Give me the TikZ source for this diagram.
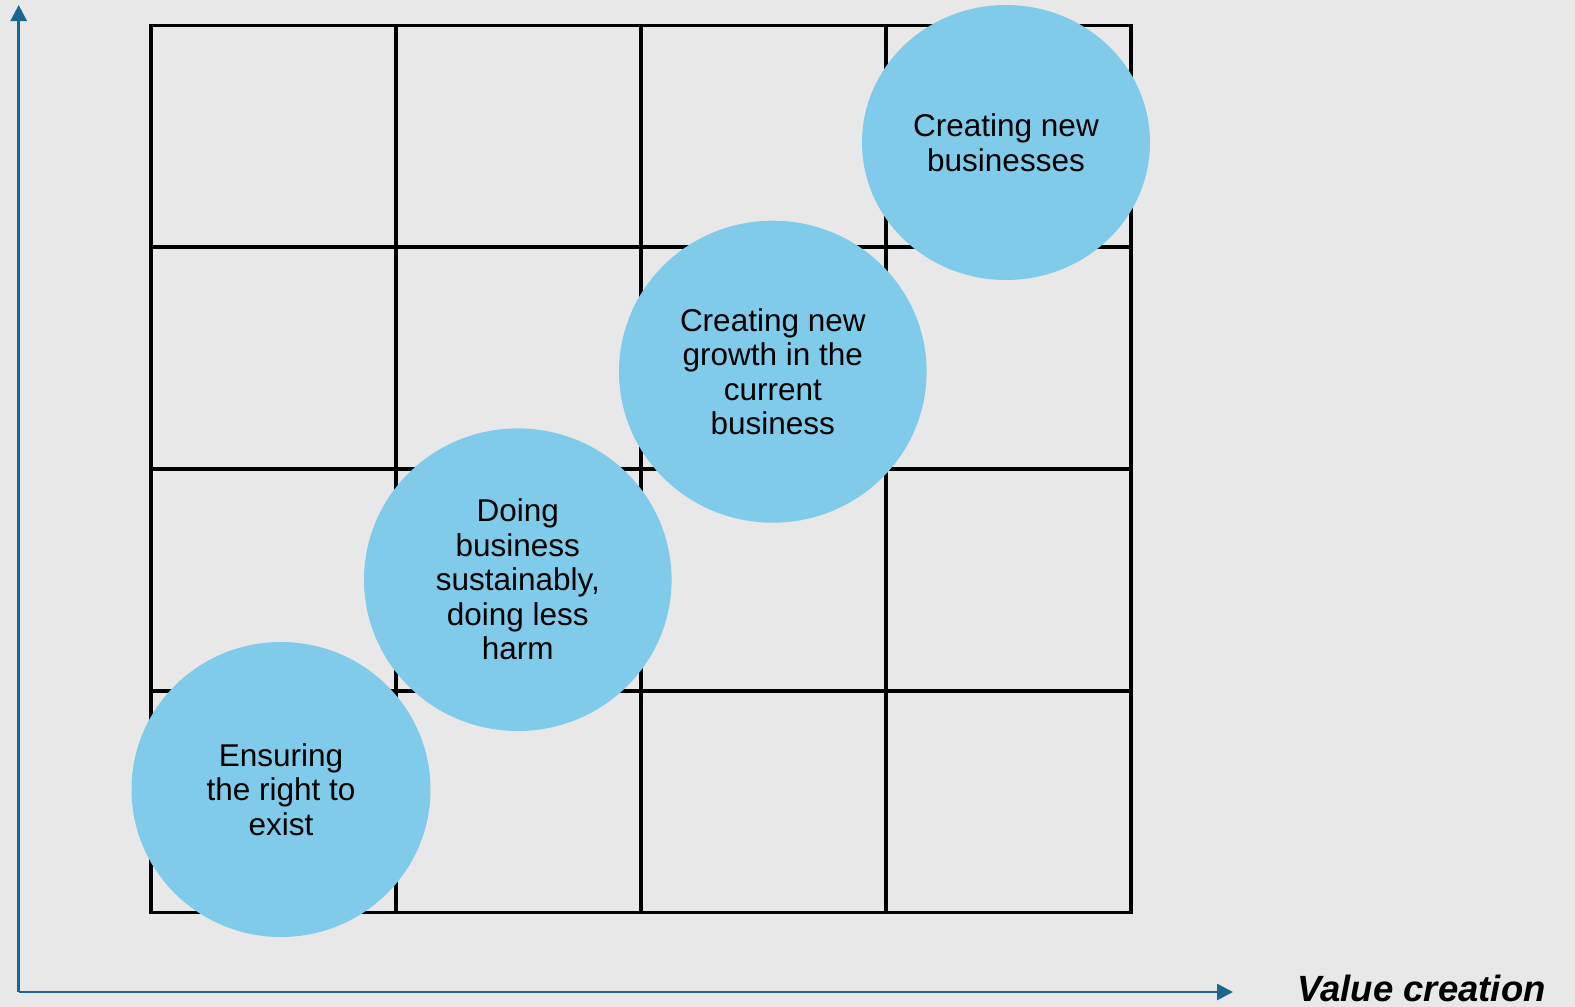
\documentclass[tikz,border=0pt]{standalone}
\usepackage{fontspec}
\setmainfont{Liberation Sans}
\usetikzlibrary{arrows.meta,shapes.geometric}
\definecolor{bgcol}{HTML}{E8E8E8}
\definecolor{bubblecol}{HTML}{81CBEA}
\definecolor{axiscol}{HTML}{1B6690}
\begin{document}
\begin{tikzpicture}[x=1pt,y=-1pt,
  gridline/.style={line width=3.6pt, line join=miter},
  axisline/.style={line width=2.6pt, draw=axiscol, -{Triangle[length=16pt,width=16pt]}},
  bubble/.style={ellipse, fill=bubblecol, inner sep=0pt, align=center,
    font=\fontsize{31.5}{34.5}\selectfont},
  axislabel/.style={anchor=base west, font=\fontsize{36.5}{40}\selectfont\bfseries\itshape}]
  % canvas
  \fill[bgcol] (0,0) rectangle (1575,1007);
  \useasboundingbox (0,0) rectangle (1575,1007);

  % 4x4 grid
  \def\gx{150.7}\def\gy{25.5}\def\gw{245}\def\gh{221.75}
  \draw[gridline] (\gx,\gy) rectangle ({\gx+4*\gw},{\gy+4*\gh});
  \foreach \i in {1,2,3} {
    \draw[gridline] ({\gx+\i*\gw},\gy) -- ({\gx+\i*\gw},{\gy+4*\gh});
    \draw[gridline] (\gx,{\gy+\i*\gh}) -- ({\gx+4*\gw},{\gy+\i*\gh});
  }

  % axes
  \coordinate (origin) at (18.7,992);
  \coordinate (ytip) at (18.7,5);
  \coordinate (xtip) at (1233,992);
  \draw[axisline] (origin) -- (ytip);
  \draw[axisline] (origin) -- (xtip);
  \node[axislabel] (xlabel) at (1294,1001) {Value creation};

  % stages
  \node[bubble, minimum width=299pt, minimum height=295pt] (exist) at (281,789.5)
    {Ensuring\\the right to\\exist};
  \node[bubble, minimum width=307.6pt, minimum height=302.6pt] (sustain) at (517.8,579.7)
    {Doing\\business\\sustainably,\\doing less\\harm};
  \node[bubble, minimum width=307.6pt, minimum height=302pt] (growth) at (772.8,371.7)
    {Creating new\\growth in the\\current\\business};
  \node[bubble, minimum width=288pt, minimum height=275pt] (newbiz) at (1006,142.5)
    {Creating new\\businesses};
\end{tikzpicture}
\end{document}
